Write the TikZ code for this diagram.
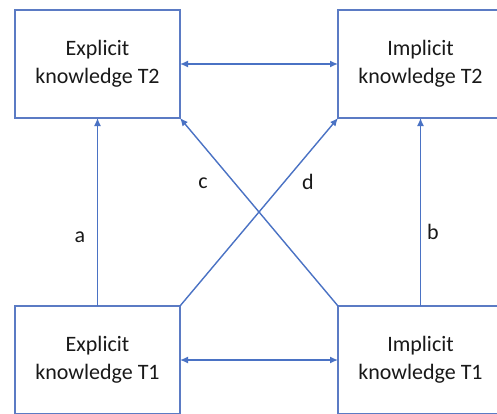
\documentclass[tikz,border=0pt]{standalone}
\usepackage{fontspec}
\setmainfont{Carlito}
\usetikzlibrary{arrows.meta}
\definecolor{boxblue}{HTML}{5B7BC4}
\definecolor{arrblue}{HTML}{4A72C4}
\tikzset{
  kbox/.style={draw=boxblue, line width=1.7pt, minimum width=165pt, minimum height=108pt,
    inner sep=0pt, outer sep=0pt, align=center, font=\fontsize{22}{28}\selectfont, text=black!90},
  conn/.style={draw=arrblue, line width=1.4pt},
  tip/.style={-{Latex[length=8pt,width=7pt]}},
  lbl/.style={font=\fontsize{22}{25}\selectfont, text=black!90, inner sep=0pt}
}
\begin{document}
\begin{tikzpicture}[x=1pt,y=1pt]
\useasboundingbox (0,0) rectangle (497,413);
\clip (0,0) rectangle (497,413);
\fill[white] (0,0) rectangle (497,413);
\node[kbox] (et2) at (97.5,349) {Explicit\\knowledge T2};
\node[kbox] (it2) at (420.5,349) {Implicit\\knowledge T2};
\node[kbox] (et1) at (97.5,53) {Explicit\\knowledge T1};
\node[kbox] (it1) at (420.5,53) {Implicit\\knowledge T1};
\draw[conn,{Latex[length=8pt,width=7pt]}-{Latex[length=8pt,width=7pt]}] (et2.east) -- (it2.west);
\draw[conn,{Latex[length=8pt,width=7pt]}-{Latex[length=8pt,width=7pt]}] (et1.east) -- (it1.west);
\draw[conn,tip] (et1.north) -- (et2.south);
\draw[conn,tip] (it1.north) -- (it2.south);
\draw[conn,tip] (it1.north west) -- (et2.south east);
\draw[conn,tip] (et1.north east) -- (it2.south west);
\node[lbl] (la) at (80,176) {a};
\node[lbl] (lb) at (433,181) {b};
\node[lbl] (lc) at (203,230) {c};
\node[lbl] (ld) at (308,231) {d};
\end{tikzpicture}
\end{document}
